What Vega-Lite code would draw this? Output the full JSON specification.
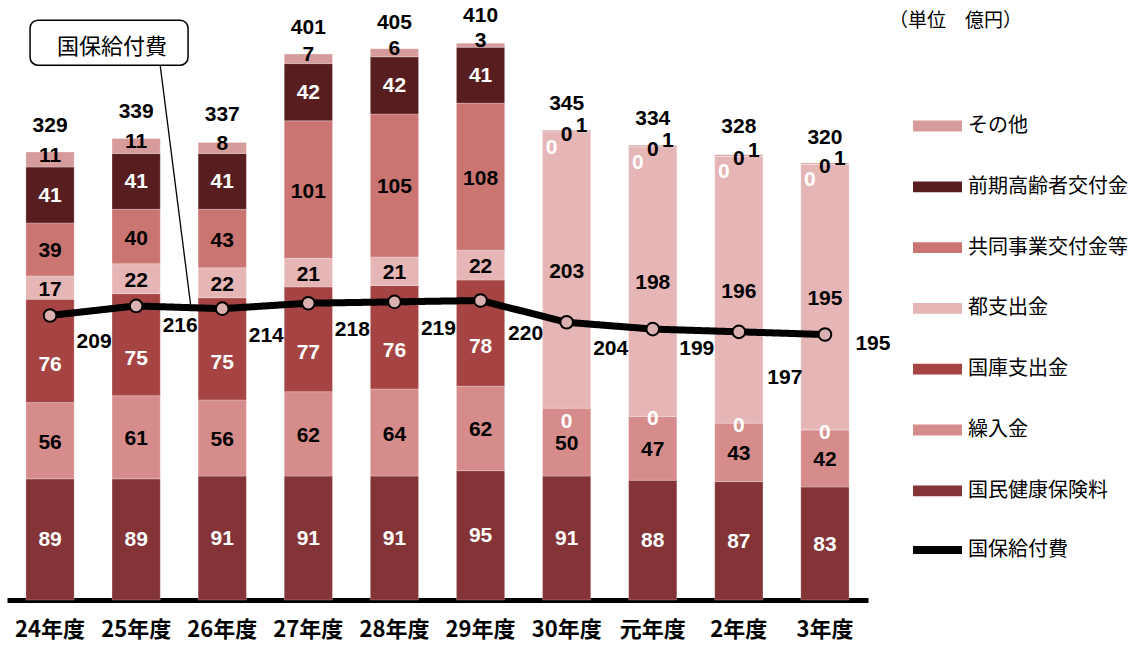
{
  "$schema": "https://vega.github.io/schema/vega-lite/v6.json",
  "width": 861,
  "height": 599,
  "autosize": {"type": "none"},
  "padding": {"left": 7, "top": 1, "right": 272, "bottom": 46},
  "background": "white",
  "title": {"text": "（単位　億円）", "anchor": "start", "frame": "group", "orient": "top", "dx": 882, "dy": 30, "offset": 0, "font": "Noto Sans CJK JP", "fontSize": 19, "fontWeight": "normal", "color": "#000000"},
  "config": {"view": {"stroke": null}, "font": "Noto Sans CJK JP"},
  "data": {"values": [
    {"year": "24年度", "国民健康保険料": 89, "繰入金": 56, "国庫支出金": 76, "都支出金": 17, "共同事業交付金等": 39, "前期高齢者交付金": 41, "その他": 11, "total": 329, "benefit": 209},
    {"year": "25年度", "国民健康保険料": 89, "繰入金": 61, "国庫支出金": 75, "都支出金": 22, "共同事業交付金等": 40, "前期高齢者交付金": 41, "その他": 11, "total": 339, "benefit": 216},
    {"year": "26年度", "国民健康保険料": 91, "繰入金": 56, "国庫支出金": 75, "都支出金": 22, "共同事業交付金等": 43, "前期高齢者交付金": 41, "その他": 8, "total": 337, "benefit": 214},
    {"year": "27年度", "国民健康保険料": 91, "繰入金": 62, "国庫支出金": 77, "都支出金": 21, "共同事業交付金等": 101, "前期高齢者交付金": 42, "その他": 7, "total": 401, "benefit": 218},
    {"year": "28年度", "国民健康保険料": 91, "繰入金": 64, "国庫支出金": 76, "都支出金": 21, "共同事業交付金等": 105, "前期高齢者交付金": 42, "その他": 6, "total": 405, "benefit": 219},
    {"year": "29年度", "国民健康保険料": 95, "繰入金": 62, "国庫支出金": 78, "都支出金": 22, "共同事業交付金等": 108, "前期高齢者交付金": 41, "その他": 3, "total": 410, "benefit": 220},
    {"year": "30年度", "国民健康保険料": 91, "繰入金": 50, "国庫支出金": 0, "都支出金": 203, "共同事業交付金等": 0, "前期高齢者交付金": 0, "その他": 1, "total": 345, "benefit": 204},
    {"year": "元年度", "国民健康保険料": 88, "繰入金": 47, "国庫支出金": 0, "都支出金": 198, "共同事業交付金等": 0, "前期高齢者交付金": 0, "その他": 1, "total": 334, "benefit": 199},
    {"year": "2年度", "国民健康保険料": 87, "繰入金": 43, "国庫支出金": 0, "都支出金": 196, "共同事業交付金等": 0, "前期高齢者交付金": 0, "その他": 1, "total": 328, "benefit": 197},
    {"year": "3年度", "国民健康保険料": 83, "繰入金": 42, "国庫支出金": 0, "都支出金": 195, "共同事業交付金等": 0, "前期高齢者交付金": 0, "その他": 1, "total": 320, "benefit": 195}
  ]},
  "encoding": {
    "x": {
      "field": "year", "type": "nominal",
      "scale": {"domain": ["24年度", "25年度", "26年度", "27年度", "28年度", "29年度", "30年度", "元年度", "2年度", "3年度"], "paddingInner": 0.44, "paddingOuter": 0.22},
      "axis": {"title": null, "domainColor": "#000000", "domainWidth": 5, "ticks": false, "grid": false, "labelAngle": 0, "labelFont": "Noto Sans CJK JP", "labelFontWeight": "bold", "labelFontSize": 22, "labelColor": "#000000", "labelPadding": 19}
    }
  },
  "layer": [
    {
      "transform": [
        {"fold": ["国民健康保険料", "繰入金", "国庫支出金", "都支出金", "共同事業交付金等", "前期高齢者交付金", "その他"], "as": ["series", "amount"]},
        {"calculate": "indexof(['国民健康保険料','繰入金','国庫支出金','都支出金','共同事業交付金等','前期高齢者交付金','その他'], datum.series)", "as": "k"},
        {"stack": "amount", "groupby": ["year"], "sort": [{"field": "k", "order": "ascending"}], "as": ["y0", "y1"]},
        {"calculate": "(datum.y0 + datum.y1) / 2", "as": "mid"}
      ],
      "layer": [
        {
          "mark": {"type": "bar", "stroke": "#ffffff", "strokeWidth": 0.6, "strokeOpacity": 0.4},
          "encoding": {
            "y": {"field": "y0", "type": "quantitative", "scale": {"domain": [0, 440], "nice": false, "zero": true}, "axis": null},
            "y2": {"field": "y1"},
            "color": {
              "field": "series", "type": "nominal",
              "scale": {
                "domain": ["その他", "前期高齢者交付金", "共同事業交付金等", "都支出金", "国庫支出金", "繰入金", "国民健康保険料"],
                "range": ["#d69b9b", "#581d1f", "#cb7573", "#e6b5b5", "#a54442", "#d58c8b", "#843437"]
              },
              "legend": {
                "orient": "none", "legendX": 906, "legendY": 100.5, "title": null, "padding": 0,
                "symbolSize": 2401, "symbolType": "M-1,-0.22H1V0.22H-1Z", "symbolStrokeWidth": 0,
                "labelFont": "Noto Sans CJK JP", "labelFontSize": 20, "labelColor": "#000000", "labelOffset": 6, "labelLimit": 300,
                "rowPadding": 25.8
              }
            }
          }
        },
        {
          "transform": [{"filter": "datum.amount > 0 && (datum.series === '国民健康保険料' || datum.series === '前期高齢者交付金')"}],
          "mark": {"type": "text", "font": "Liberation Sans", "fontWeight": "bold", "fontSize": 21, "fill": "#ffffff", "baseline": "middle", "dy": 1},
          "encoding": {"y": {"field": "mid", "type": "quantitative", "scale": {"domain": [0, 440], "nice": false}}, "text": {"field": "amount"}}
        },
        {
          "transform": [{"filter": "datum.amount > 0 && datum.series === '国庫支出金'"}],
          "mark": {"type": "text", "font": "Liberation Sans", "fontWeight": "bold", "fontSize": 21, "fill": "#ffffff", "baseline": "middle", "dy": 14},
          "encoding": {"y": {"field": "mid", "type": "quantitative", "scale": {"domain": [0, 440], "nice": false}}, "text": {"field": "amount"}}
        },
        {
          "transform": [{"filter": "datum.amount > 0 && (datum.series === '繰入金' || datum.series === '都支出金' || datum.series === '共同事業交付金等')"}],
          "mark": {"type": "text", "font": "Liberation Sans", "fontWeight": "bold", "fontSize": 21, "fill": "#000000", "baseline": "middle", "dy": 2},
          "encoding": {"y": {"field": "mid", "type": "quantitative", "scale": {"domain": [0, 440], "nice": false}}, "text": {"field": "amount"}}
        },
        {
          "transform": [{"filter": "datum.series === 'その他' && datum.amount >= 2"}],
          "mark": {"type": "text", "font": "Liberation Sans", "fontWeight": "bold", "fontSize": 21, "fill": "#000000", "baseline": "middle", "dy": -4},
          "encoding": {"y": {"field": "mid", "type": "quantitative", "scale": {"domain": [0, 440], "nice": false}}, "text": {"field": "amount"}}
        },
        {
          "transform": [{"filter": "datum.series === 'その他' && datum.amount > 0 && datum.amount < 2"}],
          "mark": {"type": "text", "font": "Liberation Sans", "fontWeight": "bold", "fontSize": 21, "fill": "#000000", "baseline": "middle", "dx": 15, "dy": -5},
          "encoding": {"y": {"field": "mid", "type": "quantitative", "scale": {"domain": [0, 440], "nice": false}}, "text": {"field": "amount"}}
        },
        {
          "transform": [{"filter": "datum.series === '共同事業交付金等' && datum.amount === 0"}],
          "mark": {"type": "text", "font": "Liberation Sans", "fontWeight": "bold", "fontSize": 21, "fill": "#000000", "baseline": "middle", "dy": 3},
          "encoding": {"y": {"field": "mid", "type": "quantitative", "scale": {"domain": [0, 440], "nice": false}}, "text": {"field": "amount"}}
        },
        {
          "transform": [{"filter": "datum.series === '前期高齢者交付金' && datum.amount === 0"}],
          "mark": {"type": "text", "font": "Liberation Sans", "fontWeight": "bold", "fontSize": 21, "fill": "#ffffff", "baseline": "middle", "dx": -15, "dy": 16},
          "encoding": {"y": {"field": "mid", "type": "quantitative", "scale": {"domain": [0, 440], "nice": false}}, "text": {"field": "amount"}}
        },
        {
          "transform": [{"filter": "datum.series === '国庫支出金' && datum.amount === 0 && datum.year === '30年度'"}],
          "mark": {"type": "text", "font": "Liberation Sans", "fontWeight": "bold", "fontSize": 21, "fill": "#ffffff", "baseline": "middle", "dy": 14},
          "encoding": {"y": {"field": "mid", "type": "quantitative", "scale": {"domain": [0, 440], "nice": false}}, "text": {"field": "amount"}}
        },
        {
          "transform": [{"filter": "datum.series === '国庫支出金' && datum.amount === 0 && datum.year !== '30年度'"}],
          "mark": {"type": "text", "font": "Liberation Sans", "fontWeight": "bold", "fontSize": 21, "fill": "#ffffff", "baseline": "middle", "dy": 3},
          "encoding": {"y": {"field": "mid", "type": "quantitative", "scale": {"domain": [0, 440], "nice": false}}, "text": {"field": "amount"}}
        }
      ]
    },
    {
      "mark": {"type": "line", "stroke": "#000000", "strokeWidth": 7, "strokeJoin": "round", "strokeCap": "round"},
      "encoding": {
        "y": {"field": "benefit", "type": "quantitative", "scale": {"domain": [0, 440], "nice": false}},
        "strokeDash": {
          "datum": "国保給付費", "type": "nominal",
          "scale": {"domain": ["国保給付費"], "range": [[1, 0]]},
          "legend": {
            "orient": "none", "legendX": 902, "legendY": 520.5, "title": null, "padding": 0,
            "symbolSize": 2401, "symbolType": "stroke", "symbolStrokeWidth": 8, "symbolStrokeColor": "#000000",
            "labelFont": "Noto Sans CJK JP", "labelFontSize": 20, "labelColor": "#000000", "labelOffset": 2, "labelLimit": 300
          }
        }
      }
    },
    {
      "mark": {"type": "point", "shape": "circle", "filled": true, "fill": "#dbb0b0", "stroke": "#000000", "strokeWidth": 2, "size": 160, "opacity": 1},
      "encoding": {"y": {"field": "benefit", "type": "quantitative", "scale": {"domain": [0, 440], "nice": false}}}
    },
    {
      "transform": [{"filter": "indexof(['24年度','26年度','27年度','28年度','30年度'], datum.year) >= 0"}],
      "mark": {"type": "text", "font": "Liberation Sans", "fontWeight": "bold", "fontSize": 21, "fill": "#000000", "baseline": "middle", "dx": 44, "dy": 27},
      "encoding": {"y": {"field": "benefit", "type": "quantitative", "scale": {"domain": [0, 440], "nice": false}}, "text": {"field": "benefit"}}
    },
    {
      "transform": [{"filter": "datum.year === '25年度' || datum.year === '元年度'"}],
      "mark": {"type": "text", "font": "Liberation Sans", "fontWeight": "bold", "fontSize": 21, "fill": "#000000", "baseline": "middle", "dx": 44, "dy": 20},
      "encoding": {"y": {"field": "benefit", "type": "quantitative", "scale": {"domain": [0, 440], "nice": false}}, "text": {"field": "benefit"}}
    },
    {
      "transform": [{"filter": "datum.year === '29年度'"}],
      "mark": {"type": "text", "font": "Liberation Sans", "fontWeight": "bold", "fontSize": 21, "fill": "#000000", "baseline": "middle", "dx": 45, "dy": 33},
      "encoding": {"y": {"field": "benefit", "type": "quantitative", "scale": {"domain": [0, 440], "nice": false}}, "text": {"field": "benefit"}}
    },
    {
      "transform": [{"filter": "datum.year === '2年度'"}],
      "mark": {"type": "text", "font": "Liberation Sans", "fontWeight": "bold", "fontSize": 21, "fill": "#000000", "baseline": "middle", "dx": 46, "dy": 46},
      "encoding": {"y": {"field": "benefit", "type": "quantitative", "scale": {"domain": [0, 440], "nice": false}}, "text": {"field": "benefit"}}
    },
    {
      "transform": [{"filter": "datum.year === '3年度'"}],
      "mark": {"type": "text", "font": "Liberation Sans", "fontWeight": "bold", "fontSize": 21, "fill": "#000000", "baseline": "middle", "dx": 48, "dy": 9},
      "encoding": {"y": {"field": "benefit", "type": "quantitative", "scale": {"domain": [0, 440], "nice": false}}, "text": {"field": "benefit"}}
    },
    {
      "mark": {"type": "text", "font": "Liberation Sans", "fontWeight": "bold", "fontSize": 21, "fill": "#000000", "baseline": "middle", "dy": -26},
      "encoding": {"y": {"field": "total", "type": "quantitative", "scale": {"domain": [0, 440], "nice": false}}, "text": {"field": "total"}}
    },
    {
      "data": {"values": [{}]},
      "mark": {"type": "rule", "stroke": "#000000", "strokeWidth": 1.3},
      "encoding": {
        "x": {"datum": "25年度", "bandPosition": 1.0},
        "x2": {"datum": "25年度", "bandPosition": 1.64},
        "y": {"datum": 392.4, "type": "quantitative"},
        "y2": {"datum": 214}
      }
    },
    {
      "data": {"values": [{}]},
      "mark": {"type": "point", "shape": "M-0.9,-0.285H0.9A0.1,0.1 0 0 1 1,-0.185V0.185A0.1,0.1 0 0 1 0.9,0.285H-0.9A0.1,0.1 0 0 1 -1,0.185V-0.185A0.1,0.1 0 0 1 -0.9,-0.285Z", "size": 24964, "filled": true, "fill": "#ffffff", "stroke": "#000000", "strokeWidth": 1.5, "opacity": 1},
      "encoding": {
        "x": {"datum": "25年度", "bandPosition": -0.062},
        "y": {"datum": 409.4, "type": "quantitative"}
      }
    },
    {
      "data": {"values": [{}]},
      "mark": {"type": "text", "text": "国保給付費", "font": "Noto Sans CJK JP", "fontSize": 22, "fill": "#000000", "baseline": "middle", "align": "center"},
      "encoding": {
        "x": {"datum": "25年度", "bandPosition": 0.0},
        "y": {"datum": 406, "type": "quantitative"}
      }
    }
  ]
}
